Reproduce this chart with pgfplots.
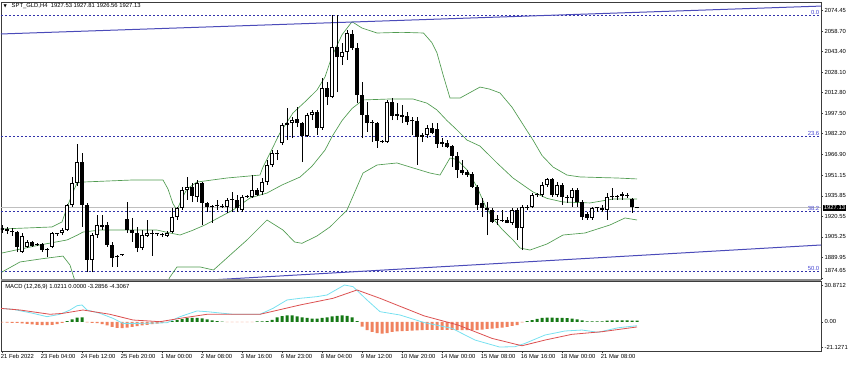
\documentclass[border=0pt]{standalone}
\usepackage{fontspec}
\setmainfont{Liberation Sans}
\newfontfamily\dejavu{DejaVu Sans}
\usepackage{pgfplots}
\usepackage{pgfplotstable}
\pgfplotsset{compat=1.18}

\definecolor{bbgreen}{RGB}{80,155,80}
\definecolor{trendblue}{RGB}{75,75,185}
\definecolor{fibblue}{RGB}{50,50,170}
\definecolor{fibtext}{RGB}{70,70,210}
\definecolor{macdcyan}{RGB}{120,225,240}
\definecolor{sigred}{RGB}{220,80,80}
\definecolor{histgreen}{RGB}{20,120,20}
\definecolor{historange}{RGB}{240,130,95}
\definecolor{framecol}{RGB}{60,60,60}

\pgfplotstableread{
i O H L C
0 1910.4 1914.2 1908.2 1911.9
1 1911.2 1912.7 1907.5 1909.7
2 1909.7 1911.9 1906.0 1908.9
3 1908.9 1909.7 1894.0 1897.8
4 1894.0 1908.2 1893.3 1906.0
5 1897.8 1903.0 1897.0 1901.5
6 1901.5 1902.2 1897.8 1898.5
7 1899.3 1900.7 1898.5 1900.0
8 1900.0 1900.7 1894.0 1895.5
9 1896.3 1897.0 1890.3 1895.5
10 1897.8 1908.9 1897.0 1908.2
11 1907.5 1908.2 1906.0 1907.8
12 1908.2 1911.9 1906.7 1910.4
13 1910.4 1929.8 1909.7 1929.1
14 1929.1 1950.0 1927.6 1945.5
15 1945.5 1974.6 1943.2 1961.1
16 1961.1 1967.8 1912.7 1929.1
17 1929.1 1930.6 1879.1 1888.1
18 1888.1 1908.2 1879.1 1906.7
19 1906.7 1921.6 1904.5 1914.2
20 1914.2 1921.6 1910.4 1912.7
21 1914.2 1916.4 1897.8 1899.3
22 1899.3 1901.5 1882.9 1889.6
23 1890.3 1891.8 1882.9 1891.1
24 1891.8 1892.5 1891.1 1891.5
25 1918.6 1931.3 1908.2 1910.4
26 1910.4 1919.4 1901.5 1908.2
27 1908.2 1912.7 1894.0 1897.0
28 1897.0 1910.4 1895.5 1906.7
29 1906.0 1917.9 1905.2 1908.2
30 1908.2 1910.4 1891.1 1907.5
31 1907.5 1908.2 1906.0 1907.2
32 1906.7 1908.2 1905.2 1906.5
33 1906.0 1909.7 1905.2 1908.2
34 1908.9 1926.8 1908.2 1920.1
35 1920.1 1927.6 1917.9 1926.8
36 1926.8 1942.5 1925.3 1940.3
37 1940.3 1950.0 1932.8 1942.5
38 1942.5 1945.5 1931.3 1935.8
39 1935.0 1947.7 1931.3 1945.5
40 1945.5 1946.2 1914.2 1930.6
41 1930.6 1931.3 1923.9 1927.6
42 1927.6 1929.1 1915.7 1927.3
43 1928.3 1932.8 1925.3 1928.0
44 1928.3 1929.8 1926.8 1927.6
45 1927.6 1934.3 1923.1 1932.8
46 1932.8 1938.8 1923.9 1933.1
47 1932.8 1936.5 1923.9 1926.8
48 1925.3 1936.5 1923.9 1935.0
49 1935.0 1936.5 1934.3 1935.8
50 1935.0 1951.4 1934.3 1940.3
51 1940.3 1941.8 1935.8 1936.5
52 1938.8 1949.2 1936.5 1946.2
53 1946.2 1962.6 1944.0 1958.9
54 1958.9 1970.1 1957.4 1967.8
55 1967.1 1970.1 1962.6 1967.8
56 1975.3 1990.2 1973.8 1988.7
57 1988.7 2001.4 1977.5 1990.2
58 1990.2 1994.7 1979.0 1992.4
59 1993.2 2002.1 1987.2 1990.2
60 1990.2 1991.0 1961.1 1980.5
61 1980.5 1997.7 1979.8 1996.2
62 1996.2 1999.9 1992.4 1998.4
63 1998.4 1999.9 1981.3 1986.5
64 1986.5 2023.8 1985.0 2016.3
65 2016.3 2020.8 2003.6 2009.6
66 2009.6 2070.7 2008.8 2046.9
67 2046.9 2070.7 2013.3 2039.4
68 2039.4 2049.8 2033.4 2043.1
69 2043.1 2059.5 2037.2 2057.3
70 2056.6 2059.5 2044.6 2046.1
71 2046.1 2049.8 2005.1 2011.1
72 2011.1 2020.8 1979.0 1996.2
73 1996.2 2005.9 1983.5 1990.2
74 1990.2 1992.4 1976.0 1989.9
75 1990.2 1991.0 1971.6 1976.8
76 1976.8 1977.5 1975.3 1976.0
77 1976.0 2007.4 1975.3 2005.9
78 2005.9 2008.8 1992.4 1995.4
79 1995.4 2005.1 1992.4 1996.9
80 1996.2 2003.6 1990.2 1994.7
81 1995.4 1998.4 1988.7 1991.0
82 1991.7 1994.7 1981.3 1991.4
83 1991.7 1994.7 1958.9 1979.8
84 1979.8 1982.8 1976.0 1981.3
85 1981.3 1988.7 1979.0 1986.5
86 1986.5 1990.2 1982.0 1982.8
87 1985.7 1990.2 1971.6 1974.6
88 1974.6 1979.0 1972.3 1976.0
89 1975.3 1977.5 1971.6 1972.3
90 1973.1 1973.8 1957.4 1965.6
91 1965.6 1968.6 1949.2 1955.2
92 1955.2 1962.6 1951.4 1952.9
93 1953.7 1955.2 1950.0 1951.4
94 1952.2 1953.7 1941.8 1942.5
95 1942.5 1944.0 1925.3 1929.1
96 1930.6 1934.3 1920.1 1926.8
97 1926.8 1931.3 1906.7 1925.3
98 1925.3 1926.8 1915.7 1916.4
99 1917.9 1921.6 1914.2 1917.6
100 1917.9 1925.3 1916.4 1917.1
101 1917.9 1920.1 1915.3 1915.7
102 1915.7 1926.8 1914.2 1925.3
103 1925.3 1926.8 1903.0 1911.9
104 1911.9 1929.1 1895.5 1927.6
105 1927.6 1929.1 1925.3 1926.8
106 1927.6 1938.0 1926.8 1936.5
107 1936.5 1938.0 1935.0 1936.2
108 1936.5 1946.2 1935.0 1944.0
109 1944.0 1949.2 1942.5 1948.5
110 1948.5 1949.2 1935.0 1936.5
111 1936.5 1946.2 1935.0 1944.0
112 1944.0 1945.5 1929.1 1935.0
113 1935.0 1936.5 1930.6 1934.3
114 1934.3 1941.8 1927.6 1940.3
115 1940.3 1941.8 1927.6 1931.3
116 1931.3 1932.8 1917.9 1920.1
117 1922.4 1923.9 1917.9 1919.4
118 1919.4 1927.6 1917.9 1926.8
119 1926.8 1927.6 1923.9 1926.6
120 1926.8 1929.1 1923.9 1925.3
121 1925.3 1938.0 1917.9 1935.0
122 1935.0 1941.8 1932.8 1934.8
123 1935.0 1936.5 1932.8 1935.2
124 1935.8 1938.8 1932.8 1937.3
125 1936.5 1938.0 1934.3 1935.8
126 1933.6 1934.3 1923.1 1927.6
127 1927.53 1927.81 1926.56 1927.13
}\candles

\pgfplotstableread{
i h
0 -0.5
1 -0.6
2 -0.8
3 -1.0
4 -1.4
5 -1.8
6 -2.2
7 -2.6
8 -2.8
9 -2.8
10 -2.6
11 -2.0
12 -1.0
13 0.5
14 2.0
15 3.5
16 3.8
17 -0.4
18 -0.8
19 -1.2
20 -2.0
21 -3.0
22 -4.2
23 -5.0
24 -5.3
25 -4.8
26 -4.2
27 -3.6
28 -3.0
29 -2.5
30 -2.0
31 -1.5
32 -1.0
33 -0.4
34 0.6
35 1.5
36 2.3
37 3.0
38 3.2
39 3.2
40 2.8
41 2.0
42 1.2
43 0.6
44 0.2
45 -0.3
46 -0.3
47 -0.3
48 -0.3
49 -0.3
50 -0.3
51 0.3
52 0.3
53 0.6
54 1.6
55 3.8
56 4.8
57 5.4
58 5.4
59 4.6
60 3.8
61 3.2
62 2.6
63 2.6
64 3.2
65 3.8
66 4.6
67 5.0
68 5.4
69 5.0
70 3.8
71 0.6
72 -4.0
73 -7.0
74 -8.5
75 -9.5
76 -10.0
77 -9.5
78 -8.5
79 -8.0
80 -7.8
81 -7.6
82 -7.4
83 -7.2
84 -7.0
85 -6.8
86 -6.8
87 -6.8
88 -6.8
89 -6.8
90 -6.8
91 -7.0
92 -7.0
93 -7.0
94 -7.0
95 -7.0
96 -6.5
97 -6.0
98 -5.8
99 -5.4
100 -4.8
101 -4.2
102 -3.5
103 -2.8
104 -0.5
105 0.5
106 1.5
107 2.5
108 3.2
109 3.6
110 3.6
111 3.4
112 3.2
113 3.0
114 2.6
115 2.0
116 1.2
117 0.4
118 0.3
119 0.3
120 0.4
121 0.9
122 1.1
123 1.1
124 1.1
125 1.1
126 1.0
127 1.0211
}\hist

\begin{document}
\begin{tikzpicture}[font=\fontsize{4.4}{5.2}\selectfont]
\useasboundingbox (0,0) rectangle (637.5pt,-273.75pt);
% ---------------- main price panel ----------------
\begin{axis}[
  at={(0.75pt,-1.5pt)}, anchor=north west,
  scale only axis, width=615pt, height=207.75pt,
  xmin=-0.2, xmax=163.8, ymin=1873.9, ymax=2080.41,
  axis line style={framecol, line width=0.5pt},
  xtick=\empty,
  ytick={2074.45,2058.70,2043.40,2028.10,2012.80,1997.50,1982.20,1966.90,1951.15,1935.85,1920.55,1905.25,1889.95},
  yticklabels={2074.45,2058.70,2043.40,2028.10,2012.80,1997.50,1982.20,1966.90,1951.15,1935.85,1920.55,1905.25,1889.95},
  extra y ticks={1874.65},
  extra y tick labels={1874.65},
  extra y tick style={yticklabel style={yshift=5.5pt}},
  ytick pos=right, yticklabel pos=right,
  tick align=outside, major tick length=1.5pt,
  tick style={framecol, line width=0.4pt},
  yticklabel style={anchor=west, inner sep=0pt, xshift=1pt, font=\fontsize{4.4}{5.2}\selectfont},
  clip mode=individual,
]
% fibonacci levels
\addplot[fibblue, dash pattern=on 1.6pt off 1.4pt, line width=0.5pt] coordinates {(-1,2070.7) (170,2070.7)};
\addplot[fibblue, dash pattern=on 1.6pt off 1.4pt, line width=0.5pt] coordinates {(-1,1980.5) (170,1980.5)};
\addplot[fibblue, dash pattern=on 1.6pt off 1.4pt, line width=0.5pt] coordinates {(-1,1924.7) (170,1924.7)};
\addplot[fibblue, dash pattern=on 1.6pt off 1.4pt, line width=0.5pt] coordinates {(-1,1879.6) (170,1879.6)};
% current price line
\addplot[black!25, line width=0.5pt] coordinates {(-1,1927.13) (170,1927.13)};
% Bollinger bands
\addplot[bbgreen, line width=0.5pt] coordinates {
(0,1911.2) (10,1912.7) (12,1916.4) (13,1927) (14,1937) (15,1945.5) (16.2,1946.2) (26,1947.7) (32.2,1947.7)
(33.2,1941) (34.2,1930) (35,1925.3) (36,1934) (37,1941) (39,1946.2) (45,1949.2) (51.6,1951.4) (52.2,1957.4)
(53.6,1967.8) (55.6,1982.8) (58.2,1997.7) (61,2007.4) (63,2014.8) (64.6,2024.5) (66,2040) (68,2056) (70,2065.7)
(72,2061) (75,2057.3) (80,2057.8) (84.3,2057.3) (86,2050) (87,2042.4) (88.3,2025) (89.6,2008.8) (91.6,2008.8)
(95.6,2017.0) (97.5,2015.5) (99.6,2012.6) (102,2002) (104.9,1985) (106.2,1977.5) (108,1966) (110.2,1957.4)
(113,1951.4) (115.6,1950) (120,1949.5) (123,1949.2) (127,1948.5)};
\addplot[bbgreen, line width=0.5pt] coordinates {
(0,1893.3) (7.6,1899.3) (13,1903) (15,1906.5) (16.2,1908.9) (19.6,1910.4) (26.2,1910.4) (31,1910.4) (33.6,1908.2)
(35.6,1906.7) (38,1910) (40.6,1914.2) (46.2,1925.3) (49.6,1934.3) (53,1938) (56,1944) (59.6,1949.9) (62,1958)
(64.6,1970) (66,1980) (68,1992) (70,2001) (72.2,2007.4) (77.6,2008.1) (82.2,2008.1) (85,2005) (87,1999.9)
(89,1992) (91,1985) (93,1977.5) (95.6,1973) (99,1960.4) (102.2,1949.2) (106.2,1938.8) (109,1934) (112.2,1931.3)
(117.6,1930.6) (122.2,1933.5) (127,1933.6)};
\addplot[bbgreen, line width=0.5pt] coordinates {
(0,1879.1) (3.6,1886.6) (8,1889) (12.2,1891) (13.6,1884.3) (14.4,1874.6) (16,1860) (25,1852) (31,1858)
(33.6,1875.4) (35,1882.9) (39.6,1882.9) (42.3,1880.6) (46,1893) (49,1903) (53,1917.9) (56.2,1910.4)
(58.5,1901.5) (60,1900.5) (63,1906) (65.6,1912.7) (69,1925.3) (72.2,1952.9) (75,1958.9) (79,1960.4)
(81.6,1957.4) (85.6,1952.9) (87.6,1951.4) (89.6,1964.1) (91,1963) (93,1955.2) (95,1942.5) (96.6,1929)
(98,1920) (100,1911) (102.2,1903) (103.6,1897) (105.6,1895.5) (109,1900) (112.2,1906.7) (116.6,1908.2)
(121.6,1914.2) (124.6,1919.4) (127,1917.9)};
% trend lines
\addplot[trendblue, line width=0.75pt] coordinates {(-0.4,2056.55) (164,2077.4)};
\addplot[trendblue, line width=0.75pt] coordinates {(-0.4,1864.2) (164,1899.3)};
% candles: wicks (segments from low to high)
\addplot[black, line width=0.7pt, line cap=butt, mark=none,
  quiver={u=0, v={\thisrow{H}-\thisrow{L}}}]
  table[x=i, y=L] {\candles};
% candles: bodies
\addplot[black, line width=2.3pt, line cap=butt, mark=none,
  quiver={u=0, v={max(abs(\thisrow{C}-\thisrow{O}),0.8)}}]
  table[x=i, y expr={min(\thisrow{O},\thisrow{C})}] {\candles};
% bullish bodies: white interior
\addplot[white, line width=0.8pt, line cap=butt, mark=none,
  restrict expr to domain={\thisrow{C}-\thisrow{O}}{1.6:1000},
  quiver={u=0, v={\thisrow{C}-\thisrow{O}-1.4}}]
  table[x=i, y expr={\thisrow{O}+0.7}] {\candles};
% labels
\node[anchor=south east, inner sep=0.4pt, text=fibtext] at (axis cs:163.6,2070.7) {0.0};
\node[anchor=south east, inner sep=0.4pt, text=fibtext] at (axis cs:163.6,1980.5) {23.6};
\node[anchor=south east, inner sep=0.4pt, text=fibtext] at (axis cs:163.6,1924.7) {38.2};
\node[anchor=south east, inner sep=0.4pt, text=fibtext] at (axis cs:163.6,1879.6) {50.0};
\node[anchor=west, fill=black, text=white, inner sep=0.7pt, xshift=1.3pt] at (axis cs:163.8,1927.13) {1927.13};
\end{axis}
% separator
\fill[black!45] (0.75pt,-209.25pt) rectangle (615.75pt,-211.125pt);
% title
\node[anchor=center, inner sep=0pt] at (3.9pt,-4.6pt) {\dejavu\fontsize{3.2}{4}\selectfont ▼};
\node[anchor=west, inner sep=0pt] at (8.6pt,-4.5pt) {SPT\_GLD,H4\ \ 1927.53 1927.81 1926.56 1927.13};
% ---------------- MACD panel ----------------
\begin{axis}[
  at={(0.75pt,-211.125pt)}, anchor=north west,
  scale only axis, width=615pt, height=52.125pt,
  xmin=-0.2, xmax=163.8, ymin=-24.5, ymax=33.8,
  axis line style={framecol, line width=0.5pt},
  xtick={0,8,...,120},
  xticklabels={21 Feb 2022,23 Feb 04:00,24 Feb 12:00,25 Feb 20:00,1 Mar 00:00,2 Mar 08:00,3 Mar 16:00,6 Mar 23:00,8 Mar 04:00,9 Mar 12:00,10 Mar 20:00,14 Mar 00:00,15 Mar 08:00,16 Mar 16:00,18 Mar 00:00,21 Mar 08:00},
  xtick pos=left,
  ytick={30.8712,0,-21.1271},
  yticklabels={30.8712,0.00,-21.1271},
  ytick pos=right, yticklabel pos=right,
  tick align=outside, major tick length=1.5pt,
  tick style={framecol, line width=0.4pt},
  yticklabel style={anchor=west, inner sep=0pt, xshift=1pt, font=\fontsize{4.4}{5.2}\selectfont},
  xticklabel style={anchor=north west, inner sep=0pt, xshift=-1pt, yshift=-1pt, font=\fontsize{4.4}{5.2}\selectfont},
  clip mode=individual,
]
\addplot[ybar, bar width=2.25pt, bar shift=0pt, fill=histgreen, draw=none,
  restrict expr to domain={\thisrow{h}}{0:100}] table[x=i, y=h] {\hist};
\addplot[ybar, bar width=2.25pt, bar shift=0pt, fill=historange, draw=none,
  restrict expr to domain={\thisrow{h}}{-100:0}] table[x=i, y=h] {\hist};
\addplot[macdcyan, line width=0.6pt] coordinates {
(-0.4,11.3) (2.2,10.5) (6.2,7.1) (9,4.3) (11.6,6.3) (13.6,9.9) (15,13.5) (16,14.1) (17,9.9) (19.6,7.1)
(22.2,2.9) (24.2,-1.3) (27.6,-1.3) (33,-0.8) (35.6,4.3) (39,9.1) (41,8.5) (46.2,6.3) (51.6,6.3) (54.2,11.3)
(57,18.3) (59.6,19.7) (63,21.1) (65,22.5) (68.5,30.87) (70.2,29.5) (73,18.3) (75.6,8.5) (79.6,5.7)
(84.4,-0.6) (90,-5.5) (94.6,-15.3) (99.5,-21.13) (102.6,-20.9) (104.6,-18.1) (108.6,-11.1) (112.6,-7.7)
(116,-6.9) (119.2,-8.8) (123.2,-5.0) (127,-3.29)};
\addplot[sigred, line width=0.6pt] coordinates {
(-0.4,11.3) (3.6,9.9) (9.6,6.3) (12.2,7.1) (16.2,9.9) (21.6,6.3) (26.2,1.5) (31.6,0.1) (35.6,2.9) (41,6.3)
(51.6,6.3) (59.6,14.1) (66.2,19.7) (71,26.7) (75.6,19.7) (84.4,5.0) (91.2,-2.7) (98,-13.9) (104,-20.1)
(108.6,-15.3) (114,-10.5) (120,-8.3) (127,-4.31)};
\end{axis}
\node[anchor=west, inner sep=0pt] at (3.75pt,-215.25pt) {MACD (12,26,9) 1.0211 0.0000 -3.2856 -4.3067};
\end{tikzpicture}
\end{document}
